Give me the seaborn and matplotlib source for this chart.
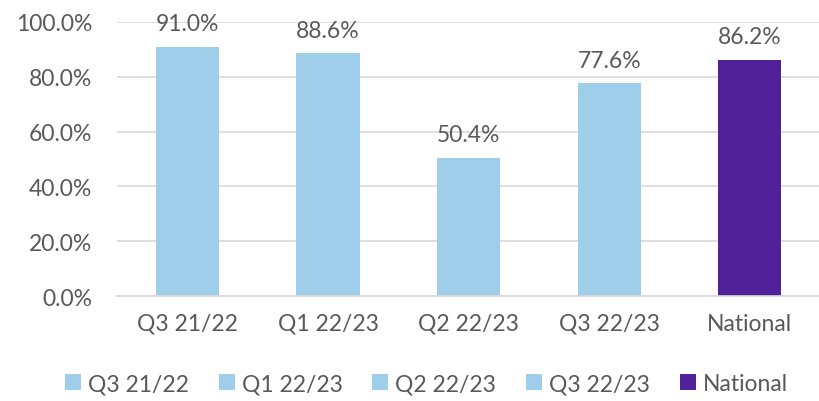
import pandas as pd
import matplotlib.pyplot as plt
import seaborn as sns

# data
periods = ["Q3 21/22", "Q1 22/23", "Q2 22/23", "Q3 22/23", "National"]
rates = [91.0, 88.6, 50.4, 77.6, 86.2]
bar_colors = ["#9FCEEB", "#9FCEEB", "#9FCEEB", "#9FCEEB", "#51219A"]

df = pd.DataFrame({"period": periods, "rate": rates})

sns.set_style("white")
plt.rcParams["font.family"] = ["Lato", "DejaVu Sans"]
text_grey = "#595959"

fig = plt.figure(figsize=(8.2, 4.02), dpi=100)
ax = fig.add_axes([0.143, 0.261, 0.857, 0.682])

sns.barplot(data=df, x="period", y="rate", hue="period",
            palette=dict(zip(periods, bar_colors)), width=0.45,
            dodge=False, saturation=1, legend=True, linewidth=0, ax=ax)

ax.set_ylim(0, 100)
ax.set_yticks(range(0, 101, 20))
ax.set_yticklabels([f"{v:.1f}%" for v in range(0, 101, 20)])
ax.yaxis.grid(True, color="#D9D9D9", linewidth=1.2)
ax.set_axisbelow(True)
for side in ["top", "right", "left"]:
    ax.spines[side].set_visible(False)
ax.spines["bottom"].set_color("#D9D9D9")
ax.spines["bottom"].set_linewidth(1.2)
ax.set_xlabel("")
ax.set_ylabel("")
ax.tick_params(axis="y", length=0, pad=18, labelsize=16.5, labelcolor=text_grey)
ax.tick_params(axis="x", length=0, pad=12, labelsize=16.5, labelcolor=text_grey)

# value labels above bars
for i, v in enumerate(rates):
    ax.annotate(f"{v:.1f}%", (i, v), xytext=(0, 9), textcoords="offset points",
                ha="center", va="bottom", fontsize=16.5, color=text_grey,
                annotation_clip=False)

leg = ax.legend(loc="center", bbox_to_anchor=(0.44, -0.32), ncol=5, frameon=False,
                fontsize=16.5, handlelength=0.7, handleheight=0.7, handletextpad=0.3,
                columnspacing=1.3)
for t in leg.get_texts():
    t.set_color(text_grey)

fig.savefig("out.png", dpi=100)
